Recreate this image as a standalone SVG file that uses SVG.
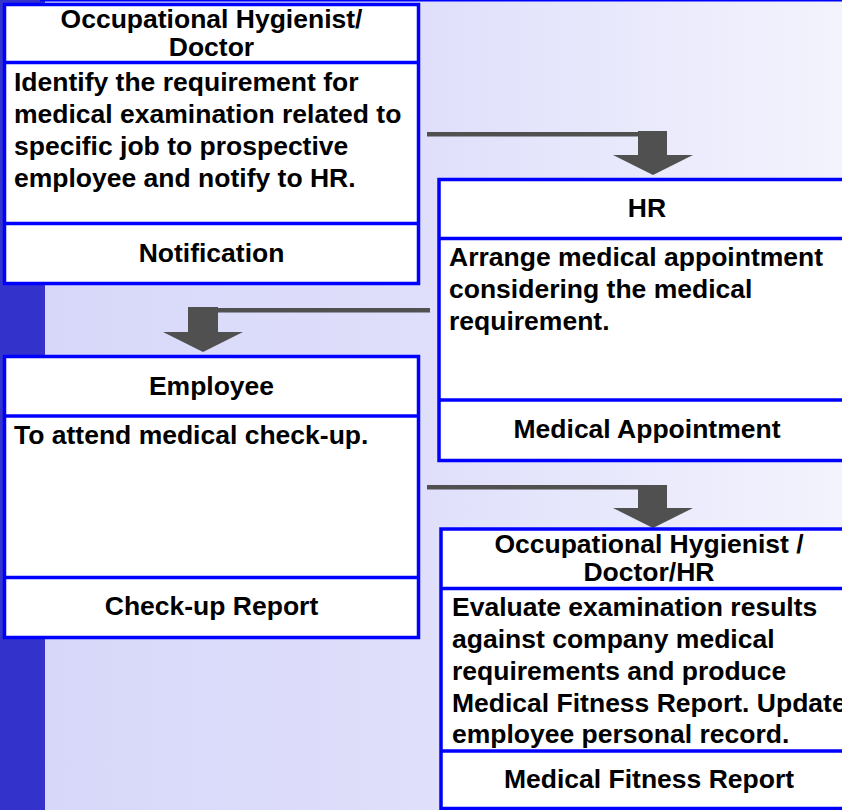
<svg xmlns="http://www.w3.org/2000/svg" width="842" height="810" viewBox="0 0 842 810">
<defs>
<linearGradient id="bg" x1="0" y1="0" x2="1" y2="0">
<stop offset="0" stop-color="#d6d6f9"/>
<stop offset="0.5" stop-color="#dfdffb"/>
<stop offset="1" stop-color="#f3f3fd"/>
</linearGradient>
<style>
.box{fill:#ffffff;stroke:#0000ff;stroke-width:3.5}
.div{stroke:#0000ff;stroke-width:3.5}
.t{font-family:"Liberation Sans",Arial,sans-serif;font-weight:bold;font-size:26.5px;fill:#000}
.c{text-anchor:middle}
.arr{fill:#505050}
</style>
</defs>
<rect x="0" y="0" width="842" height="810" fill="url(#bg)"/>
<rect x="0" y="0" width="45" height="810" fill="#3333cc"/>
<rect x="40" y="0" width="802" height="1.5" fill="#0000ff"/>

<g id="connectors">
<rect class="arr" x="427" y="132" width="213" height="4.5"/>
<polygon class="arr" points="638,131 667,131 667,155 693,155 653,175 613,155 638,155"/>
<rect class="arr" x="216" y="308" width="214" height="4.5"/>
<polygon class="arr" points="188,307 218,307 218,332 243,332 203,352 163,332 188,332"/>
<rect class="arr" x="427" y="485" width="213" height="4.5"/>
<polygon class="arr" points="638,485 667,485 667,508 693,508 653,528 613,508 638,508"/>
</g>

<g id="node-occupational-hygienist">
<rect class="box" x="4.5" y="4.5" width="414" height="279"/>
<line class="div" x1="4.5" y1="62.5" x2="418.5" y2="62.5"/>
<line class="div" x1="4.5" y1="223.5" x2="418.5" y2="223.5"/>
<text class="t c" x="211.5" y="28">Occupational Hygienist/</text>
<text class="t c" x="211.5" y="56">Doctor</text>
<text class="t" x="14" y="91">Identify the requirement for</text>
<text class="t" x="14" y="123">medical examination related to</text>
<text class="t" x="14" y="155">specific job to prospective</text>
<text class="t" x="14" y="187">employee and notify to HR.</text>
<text class="t c" x="211.5" y="262">Notification</text>
</g>

<g id="node-hr">
<rect class="box" x="439" y="179.5" width="420" height="281"/>
<line class="div" x1="439" y1="238.5" x2="859" y2="238.5"/>
<line class="div" x1="439" y1="400" x2="859" y2="400"/>
<text class="t c" x="647" y="217">HR</text>
<text class="t" x="449" y="266">Arrange medical appointment</text>
<text class="t" x="449" y="298">considering the medical</text>
<text class="t" x="449" y="330">requirement.</text>
<text class="t c" x="647" y="438">Medical Appointment</text>
</g>

<g id="node-employee">
<rect class="box" x="4.5" y="356.5" width="414" height="281"/>
<line class="div" x1="4.5" y1="416" x2="418.5" y2="416"/>
<line class="div" x1="4.5" y1="577.5" x2="418.5" y2="577.5"/>
<text class="t c" x="211.5" y="395">Employee</text>
<text class="t" x="14" y="444">To attend medical check-up.</text>
<text class="t c" x="211.5" y="615">Check-up Report</text>
</g>

<g id="node-evaluation">
<rect class="box" x="441" y="529" width="420" height="279.5"/>
<line class="div" x1="441" y1="588.5" x2="861" y2="588.5"/>
<line class="div" x1="441" y1="751" x2="861" y2="751"/>
<text class="t c" x="649" y="553">Occupational Hygienist /</text>
<text class="t c" x="649" y="581">Doctor/HR</text>
<text class="t" x="452" y="616">Evaluate examination results</text>
<text class="t" x="452" y="648">against company medical</text>
<text class="t" x="452" y="680">requirements and produce</text>
<text class="t" x="452" y="712">Medical Fitness Report. Update</text>
<text class="t" x="452" y="743">employee personal record.</text>
<text class="t c" x="649" y="788">Medical Fitness Report</text>
</g>
</svg>
